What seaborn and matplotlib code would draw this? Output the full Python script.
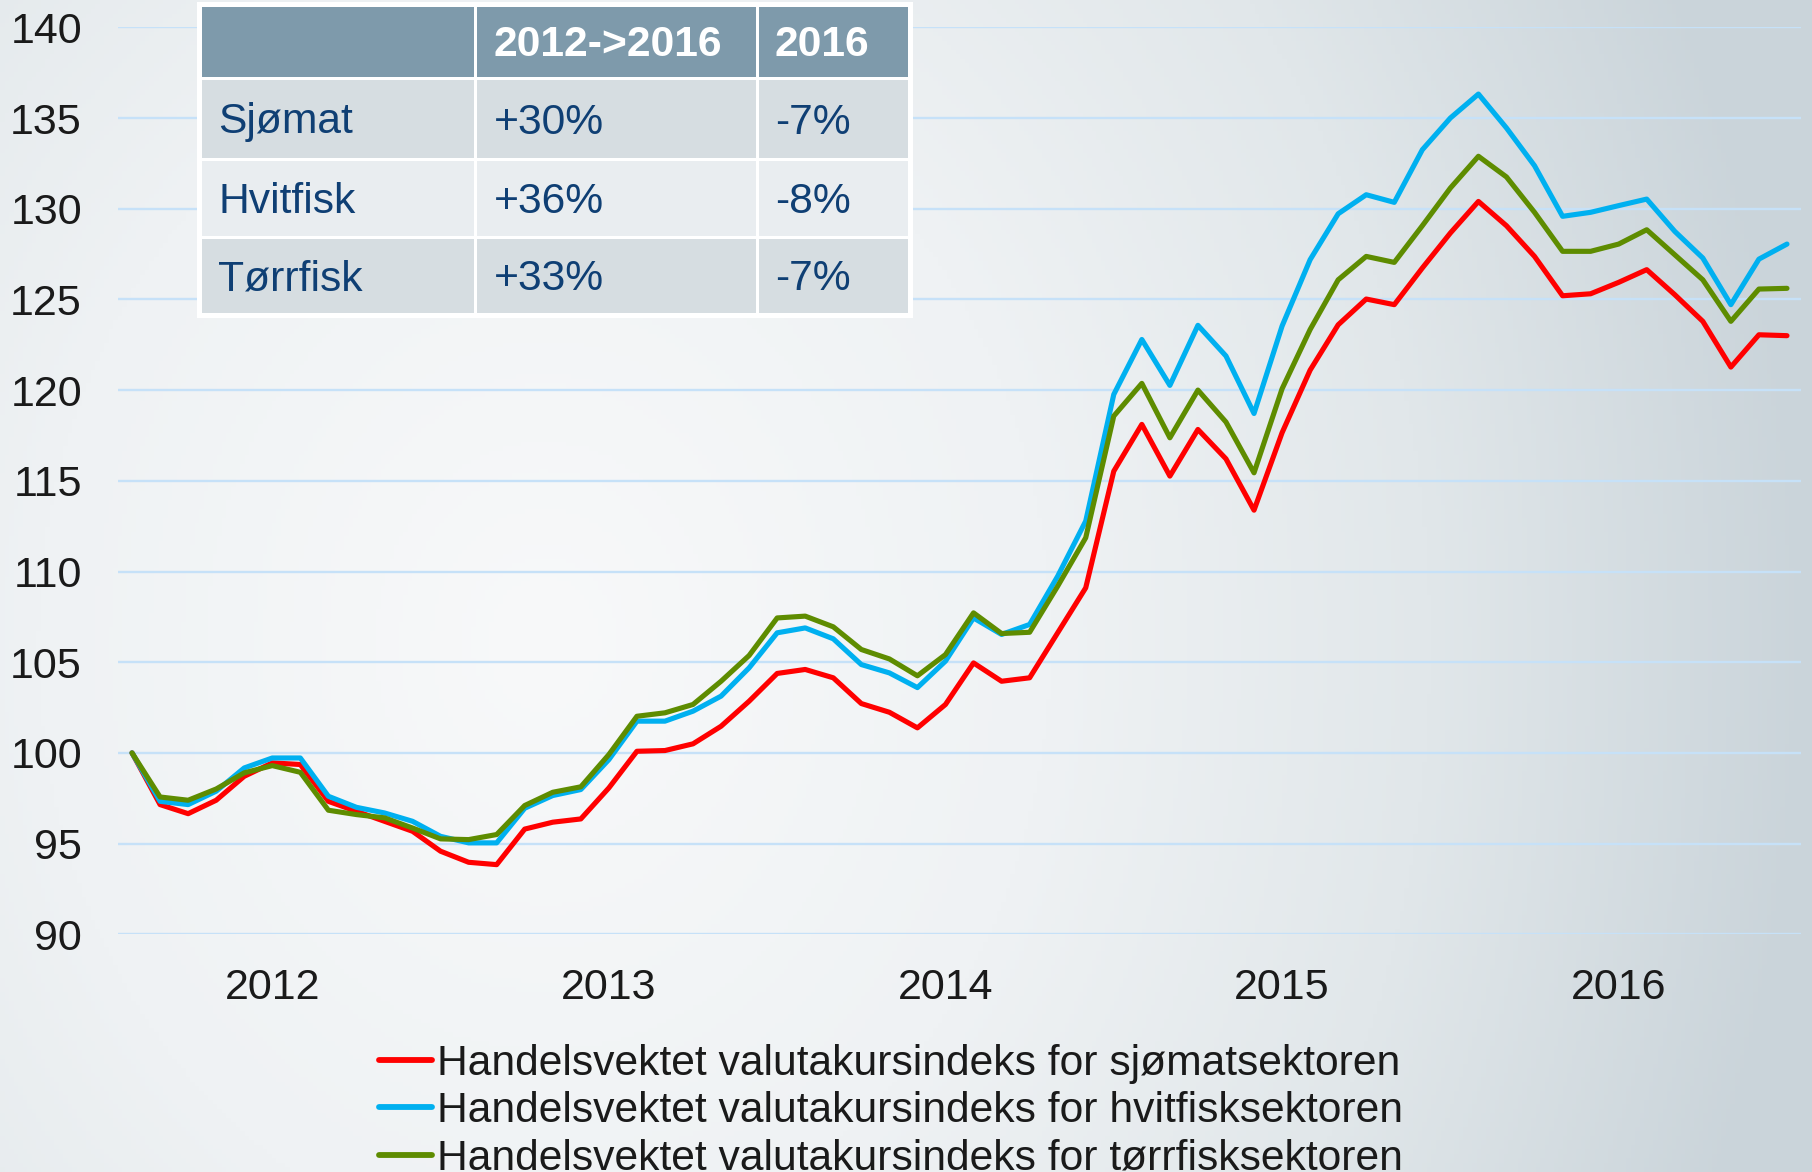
import numpy as np
import pandas as pd
import matplotlib
matplotlib.use("Agg")
import matplotlib.pyplot as plt
import seaborn as sns
from matplotlib.colors import to_rgb
from matplotlib.patches import Rectangle

# ---------------- data ----------------
months = list(range(60))  # monthly observations, Jan 2012 .. Dec 2016

sjomat = [100, 97.15, 96.65, 97.39, 98.71, 99.45, 99.36, 97.33, 96.78, 96.23,
          95.68, 94.58, 93.97, 93.84, 95.80, 96.18, 96.36, 98.07, 100.09, 100.13,
          100.50, 101.47, 102.85, 104.38, 104.60, 104.14, 102.72, 102.24, 101.38, 102.67,
          104.96, 103.95, 104.14, 106.62, 109.10, 115.53, 118.11, 115.26, 117.83, 116.21,
          113.38, 117.65, 121.10, 123.60, 125.02, 124.71, 126.73, 128.66, 130.40, 129.06,
          127.37, 125.20, 125.31, 125.94, 126.64, 125.26, 123.79, 121.27, 123.05, 123.00]

hvitfisk = [100, 97.33, 97.15, 97.89, 99.17, 99.72, 99.72, 97.61, 97.00, 96.69,
            96.23, 95.40, 95.04, 95.04, 96.95, 97.65, 97.98, 99.63, 101.75, 101.75,
            102.30, 103.13, 104.69, 106.62, 106.89, 106.29, 104.87, 104.41, 103.60, 105.06,
            107.44, 106.53, 107.08, 109.74, 112.78, 119.76, 122.79, 120.26, 123.57, 121.88,
            118.71, 123.53, 127.19, 129.72, 130.77, 130.35, 133.25, 135.00, 136.32, 134.45,
            132.37, 129.58, 129.80, 130.17, 130.53, 128.75, 127.28, 124.71, 127.22, 128.05]

torrfisk = [100, 97.57, 97.39, 98.01, 98.90, 99.30, 98.93, 96.84, 96.60, 96.42,
            95.86, 95.26, 95.22, 95.50, 97.10, 97.83, 98.13, 99.91, 102.02, 102.21,
            102.67, 103.95, 105.37, 107.44, 107.54, 106.95, 105.70, 105.18, 104.25, 105.42,
            107.72, 106.58, 106.65, 109.19, 111.86, 118.57, 120.37, 117.37, 120.00, 118.24,
            115.44, 120.07, 123.34, 126.08, 127.37, 127.04, 129.06, 131.14, 132.89, 131.75,
            129.80, 127.65, 127.65, 128.05, 128.84, 127.46, 126.08, 123.79, 125.57, 125.61]

series_names = ["Handelsvektet valutakursindeks for sjømatsektoren",
                "Handelsvektet valutakursindeks for hvitfisksektoren",
                "Handelsvektet valutakursindeks for tørrfisksektoren"]
series_colors = ["#ff0000", "#00b0f0", "#5e8c00"]

year_labels = ["2012", "2013", "2014", "2015", "2016"]
year_tick_pos = [5, 17, 29, 41, 53]
y_ticks = list(range(90, 141, 5))

table_header = ["", "2012->2016", "2016"]
table_rows = ["Sjømat", "Hvitfisk", "Tørrfisk"]
change_total = ["+30%", "+36%", "+33%"]
change_2016 = ["-7%", "-8%", "-7%"]

df = pd.DataFrame({
    "month": months * 3,
    "value": sjomat + hvitfisk + torrfisk,
    "series": [series_names[0]] * 60 + [series_names[1]] * 60 + [series_names[2]] * 60,
})

# ---------------- style ----------------
sns.set_style("white")
plt.rcParams["font.family"] = ["Liberation Sans", "DejaVu Sans"]

W, H = 1812, 1172
fig = plt.figure(figsize=(W / 100, H / 100), dpi=100)

# background gradient
bg = fig.add_axes([0, 0, 1, 1], zorder=0)
gx, gy = np.meshgrid(np.linspace(0, 1, 400), np.linspace(0, 1, 260))
d = np.sqrt(((gx - 0.30) / 0.70) ** 2 + ((gy - 0.55) / 1.3) ** 2)
d = np.clip(d, 0, 1)
stops_t = [0.0, 0.4, 0.7, 1.0]
stops_c = [to_rgb(c) for c in ["#f8f9fa", "#eff2f4", "#e1e7ea", "#cad4da"]]
img = np.zeros(gx.shape + (3,))
for k in range(3):
    img[..., k] = np.interp(d, stops_t, [c[k] for c in stops_c])
bg.imshow(img, extent=[0, 1, 0, 1], aspect="auto", origin="upper")
bg.set_axis_off()

# main axes
left, right = 118, 1801
top, bottom = 27.3, 934.3
ax = fig.add_axes([left / W, (H - bottom) / H, (right - left) / W, (bottom - top) / H], zorder=1)
ax.patch.set_alpha(0)

sns.lineplot(data=df, x="month", y="value", hue="series", hue_order=series_names,
             palette=series_colors, linewidth=3.7, sort=False, legend=False, ax=ax)

ax.set_xlim(-0.5, 59.5)
ax.set_ylim(90, 140)
ax.set_yticks(y_ticks)
ax.set_xticks(year_tick_pos)
ax.set_xticklabels(year_labels)
ax.set_xlabel("")
ax.set_ylabel("")
for s in ax.spines.values():
    s.set_visible(False)
ax.grid(axis="y", color="#c6e1f8", linewidth=1.7)
ax.grid(axis="x", visible=False)
ax.set_axisbelow(True)
ax.tick_params(axis="y", length=0, labelsize=31, pad=26, labelcolor="#1a1a1a")
ax.tick_params(axis="x", length=0, labelsize=31, pad=24.5, labelcolor="#1a1a1a")

handles = ax.get_lines()[:3]
leg = ax.legend(handles, series_names, loc="upper left",
                bbox_to_anchor=(379 / W, (H - 1043.5) / H), bbox_transform=fig.transFigure,
                frameon=False, fontsize=30.7, handlelength=1.25, handletextpad=0.1,
                borderpad=0, borderaxespad=0, labelspacing=0.18)
for t in leg.get_texts():
    t.set_color("#1a1a1a")
for h in leg.legend_handles:
    h.set_linewidth(4.2)

# table overlay in pixel coords
tab = fig.add_axes([0, 0, 1, 1], zorder=3)
tab.set_xlim(0, W)
tab.set_ylim(H, 0)
tab.set_axis_off()
tab.patch.set_alpha(0)

col_edges = [200, 475.5, 757, 909.5]
row_edges = [5, 78.5, 159.5, 237.5, 314.5]
tab.add_patch(Rectangle((197, 2), 715.5, 315.5, facecolor="white", edgecolor="none"))
row_colors = ["#7e9aab", "#d6dde1", "#e9edf0", "#d6dde1"]
cells = [table_header] + [[r, a, b] for r, a, b in zip(table_rows, change_total, change_2016)]
for ri in range(4):
    y0, y1 = row_edges[ri], row_edges[ri + 1]
    for ci in range(3):
        x0, x1 = col_edges[ci], col_edges[ci + 1]
        tab.add_patch(Rectangle((x0 + 1.5, y0 + 1.5), x1 - x0 - 3, y1 - y0 - 3,
                                facecolor=row_colors[ri], edgecolor="none"))
        txt = cells[ri][ci]
        if txt:
            yc = (y0 + y1) / 2 + 3.5
            if ri == 0:
                tab.text(x0 + 18, yc, txt, ha="left", va="center",
                         fontsize=30.7, fontweight="bold", color="white")
            else:
                tab.text(x0 + 18, yc, txt, ha="left", va="center",
                         fontsize=30.7, color="#0f3f74")

fig.savefig("out.png", dpi=100)
